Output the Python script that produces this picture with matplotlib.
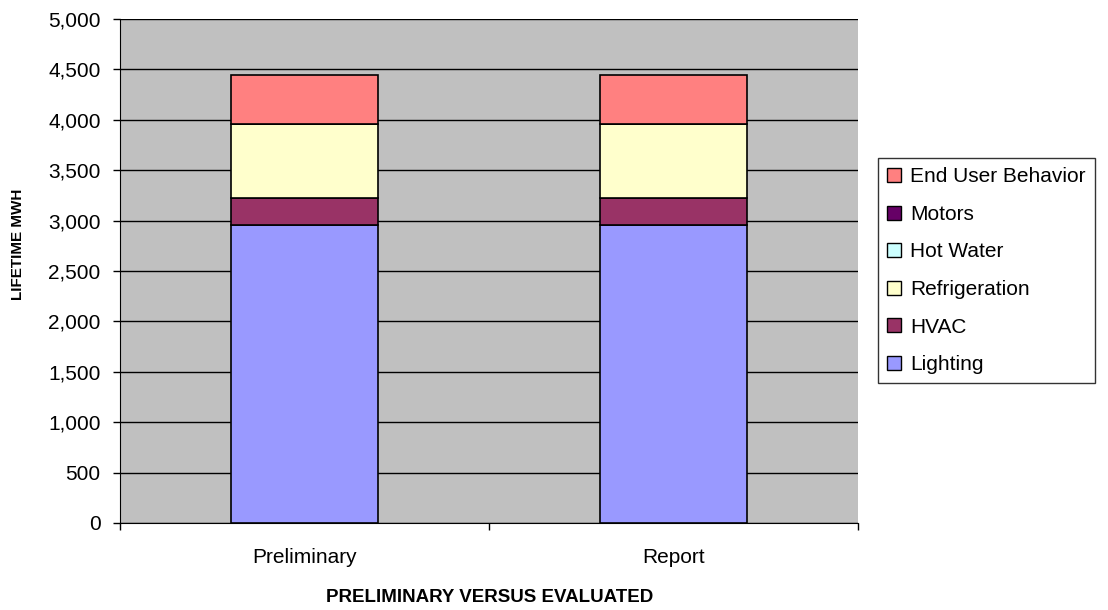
import matplotlib
matplotlib.use("Agg")
import matplotlib.pyplot as plt
from matplotlib.patches import Patch
from matplotlib.ticker import FuncFormatter, FixedLocator
import numpy as np

plt.rcParams['font.family'] = ['Liberation Sans', 'DejaVu Sans']

categories = ["Preliminary", "Report"]
series_names = ["Lighting", "HVAC", "Refrigeration", "Hot Water", "Motors", "End User Behavior"]
lighting = [2960, 2960]
hvac = [265, 265]
refrigeration = [735, 735]
hot_water = [0, 0]
motors = [0, 0]
end_user = [480, 480]
series_values = [lighting, hvac, refrigeration, hot_water, motors, end_user]
colors = ["#9999FF", "#993366", "#FFFFCC", "#CCFFFF", "#660066", "#FF8080"]

fig = plt.figure(figsize=(11.08, 6.10), dpi=100)
ax = fig.add_axes([120/1108, 1-523/610, 738/1108, 504/610])
ax.set_facecolor("#C0C0C0")

x = np.arange(len(categories))
bottom = np.zeros(len(categories))
for name, vals, c in zip(series_names, series_values, colors):
    vals = np.array(vals, dtype=float)
    ax.bar(x, vals, width=0.4, bottom=bottom, color=c, edgecolor="black",
           linewidth=1.2, zorder=3)
    bottom += vals

ax.set_xlim(-0.5, len(categories) - 0.5)
ax.set_ylim(0, 5000)
ax.set_yticks(np.arange(0, 5001, 500))
ax.yaxis.set_major_formatter(FuncFormatter(lambda v, p: f"{int(v):,}"))
ax.yaxis.grid(True, color="black", linewidth=1.0, zorder=1)
ax.set_axisbelow(True)

ax.set_xticks(x)
ax.set_xticklabels(categories)
ax.xaxis.set_minor_locator(FixedLocator([-0.5, 0.5, 1.5]))
ax.tick_params(axis='x', which='major', length=0, pad=18, labelsize=15)
ax.tick_params(axis='x', which='minor', length=5, direction='out', width=1)
ax.tick_params(axis='y', length=5, direction='out', width=1, labelsize=15, pad=9)

for s in ["top", "right"]:
    ax.spines[s].set_visible(False)

fig.text(18/1108, 1-244/610, "LIFETIME MWH", rotation=90, fontsize=11,
         fontweight="bold", ha="center", va="center")
fig.text(490/1108, 1-598/610, "PRELIMINARY VERSUS EVALUATED", fontsize=13.5,
         fontweight="bold", ha="center", va="center")

handles = [Patch(facecolor=c, edgecolor="black", label=n) for n, c in zip(series_names, colors)]
handles = handles[::-1]
leg = fig.legend(handles=handles, loc="upper left",
                 bbox_to_anchor=(878/1108, 1-158/610), fontsize=15,
                 frameon=True, fancybox=False, edgecolor="black",
                 handlelength=0.65, handleheight=0.65, handletextpad=0.45,
                 labelspacing=0.89, borderpad=0.45, borderaxespad=0)
leg.get_frame().set_linewidth(1.0)

fig.savefig("out.png", dpi=100)
